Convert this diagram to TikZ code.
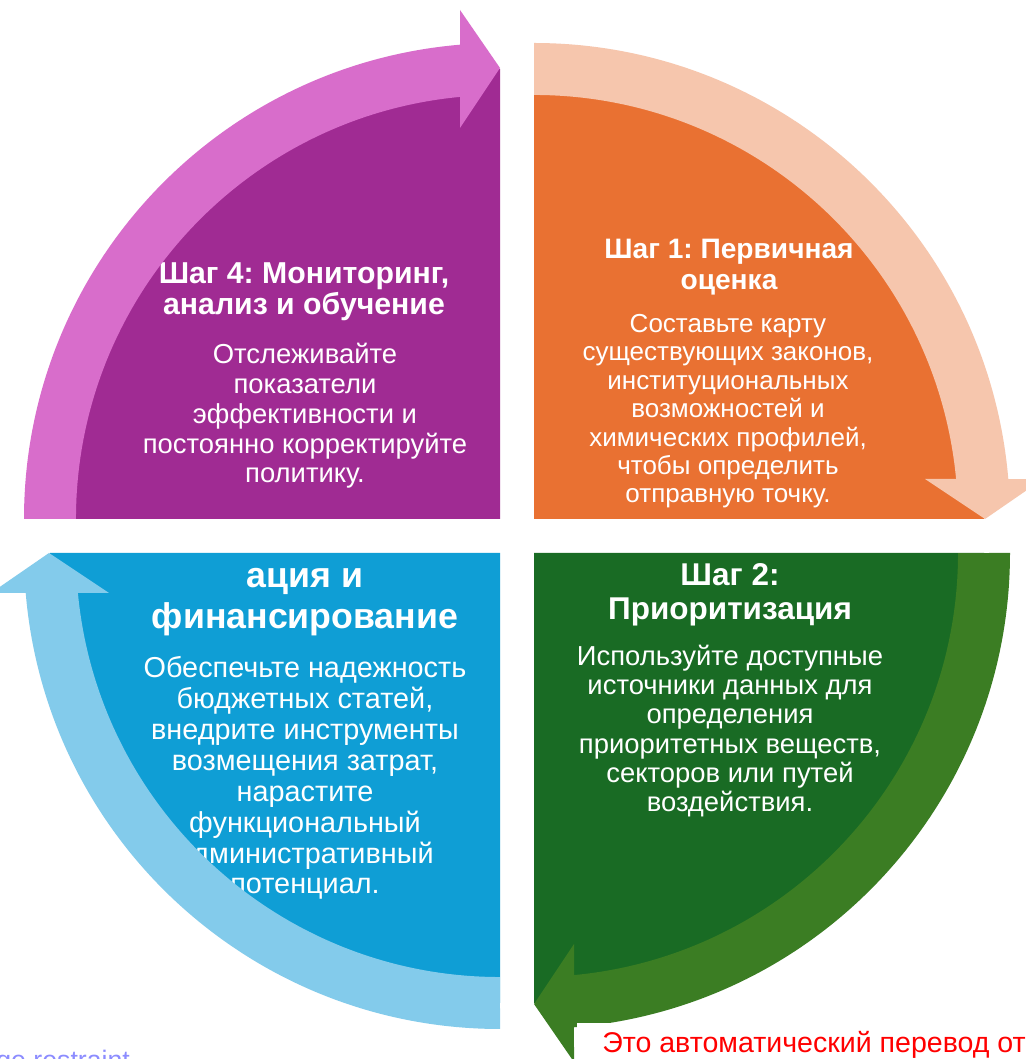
\documentclass[tikz,border=0pt]{standalone}
\usepackage{fontspec}
\setmainfont{Liberation Sans}
\frenchspacing
\usetikzlibrary{positioning}
\definecolor{purpledark}{HTML}{A02B93}
\definecolor{purplelight}{HTML}{D86DCB}
\definecolor{orangedark}{HTML}{E97132}
\definecolor{orangelight}{HTML}{F6C6AD}
\definecolor{greendark}{HTML}{196B24}
\definecolor{greenlight}{HTML}{3B7D23}
\definecolor{bluedark}{HTML}{0F9ED5}
\definecolor{bluelight}{HTML}{83CBEB}
\definecolor{notered}{HTML}{FF0000}
\definecolor{notelink}{HTML}{8C8CFF}
\tikzset{
  quarter/.pic={\fill[pic actions] (0,0) -- (-450,0) arc[start angle=180, end angle=90, radius=450] -- cycle;},
  bandarrow/.pic={\fill[pic actions] (-476,0) arc[start angle=180, end angle=94.82, radius=476] -- (-40,509) -- (0,451) -- (-40,391) -- (-40,422.1) arc[start angle=95.41, end angle=180, radius=424] -- cycle;}
}

\begin{document}
\begin{tikzpicture}[x=0.025cm, y=0.025cm,
  steptitle/.style={text=white, align=center, inner sep=0pt, anchor=base, font=\fontsize{20.5}{22.7}\selectfont\bfseries},
  steptext/.style={text=white, align=center, inner sep=0pt, anchor=base, font=\fontsize{19}{21}\selectfont}]
\useasboundingbox (0,0) rectangle (1026,1059);
\clip (0,0) rectangle (1026,1059);
\fill[white] (0,0) rectangle (1026,1059);

\coordinate (p) at (500,540);
\coordinate (o) at (534,540);
\coordinate (g) at (534,506);
\coordinate (b) at (500,506);

\pic[fill=purpledark] at (p) {quarter};
\pic[fill=orangedark, rotate=-90] at (o) {quarter};
\pic[fill=greendark, rotate=-180] at (g) {quarter};
\pic[fill=bluedark, rotate=-270] at (b) {quarter};

\node (t4)[steptitle, font=\fontsize{21.5}{22.7}\selectfont\bfseries] at (304,744) {Шаг 4: Мониторинг,\\анализ и обучение};
\node (d4)[steptext, font=\fontsize{19.5}{21.3}\selectfont] at (305,576) {Отслеживайте\\показатели\\эффективности и\\постоянно корректируйте\\политику.};
\node (t1)[steptitle, font=\fontsize{20}{22.7}\selectfont\bfseries] at (729,769) {Шаг 1: Первичная\\оценка};
\node (d1)[steptext, font=\fontsize{18.5}{20.2}\selectfont] at (728,556) {Составьте карту\\существующих законов,\\институциональных\\возможностей и\\химических профилей,\\чтобы определить\\отправную точку.};
\node (t2)[steptitle, font=\fontsize{22.4}{24.8}\selectfont\bfseries] at (730,439) {Шаг 2:\\Приоритизация};
\node (d2)[steptext, font=\fontsize{19.5}{20.9}\selectfont] at (730,247) {Используйте доступные\\источники данных для\\определения\\приоритетных веществ,\\секторов или путей\\воздействия.};
\node (t3)[steptitle, font=\fontsize{25.4}{29.8}\selectfont\bfseries] at (305,430) {ация и\\финансирование};
\node (d3)[steptext, font=\fontsize{20.5}{22}\selectfont] at (305,165) {Обеспечьте надежность\\бюджетных статей,\\внедрите инструменты\\возмещения затрат,\\нарастите\\функциональный\\административный\\потенциал.};

\pic[fill=purplelight] at (p) {bandarrow};
\pic[fill=orangelight, rotate=-90] at (o) {bandarrow};
\pic[fill=greenlight, rotate=-180] at (g) {bandarrow};
\pic[fill=bluelight, rotate=-270] at (b) {bandarrow};

\fill[white] (577,0) rectangle (1026,36);
\node (note)[anchor=base west, inner sep=0pt, text=notered, font=\fontsize{20.3}{22}\selectfont] at (602,6) {Это автоматический перевод от};
\node (link)[anchor=base west, inner sep=0pt, text=notelink, font=\fontsize{19}{22}\selectfont] at (-4,-10) {ge restraint};
\end{tikzpicture}
\end{document}
